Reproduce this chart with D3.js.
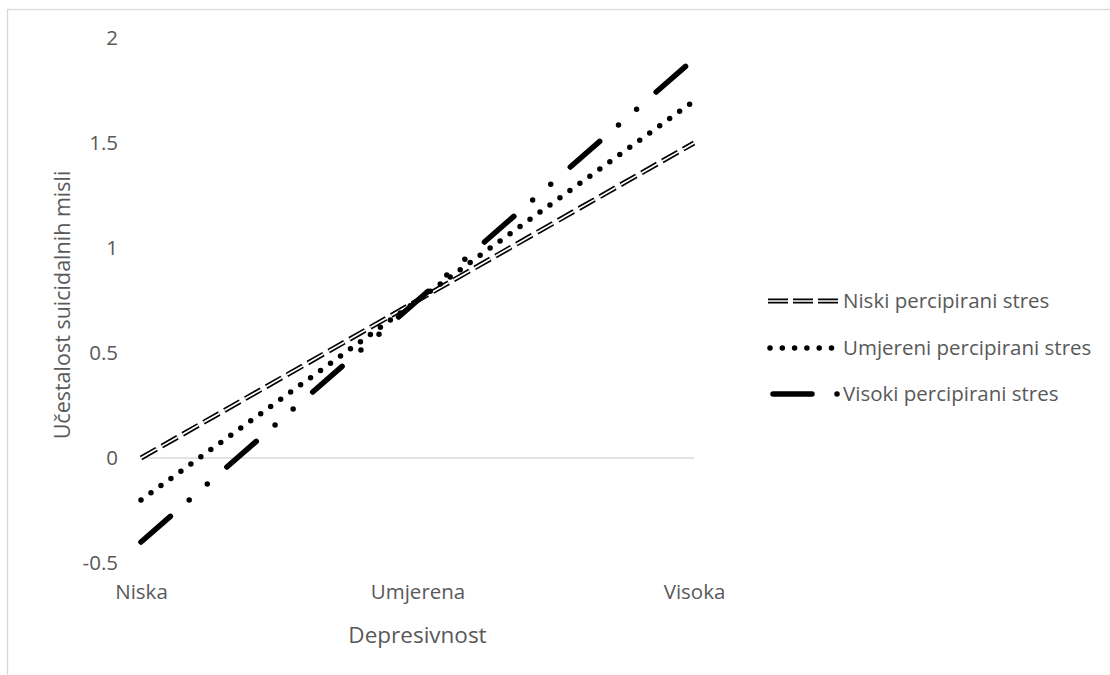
<!DOCTYPE html>
<html>
<head>
<meta charset="utf-8">
<script src="https://cdn.jsdelivr.net/npm/d3@7"></script>
<style>
  body { margin: 0; background: #fff; }
  text { font-family: "Open Sans", sans-serif; fill: #595959; }
</style>
</head>
<body>
<div id="chart"></div>
<script>
// data
const categories = ['Niska', 'Umjerena', 'Visoka'];
const niskiStres = [0, 0.75, 1.5];
const umjereniStres = [-0.2, 0.75, 1.7];
const visokiStres = [-0.4, 0.75, 1.9];
const seriesNames = ['Niski percipirani stres', 'Umjereni percipirani stres', 'Visoki percipirani stres'];
const yTicks = [-0.5, 0, 0.5, 1, 1.5, 2];

const W = 1110, H = 675;

const svg = d3.select('#chart')
    .append('svg')
    .attr('width', W)
    .attr('height', H);

// outer chart frame (cropped on the right and bottom)
svg.append('rect')
    .attr('x', 7.5)
    .attr('y', 9.5)
    .attr('width', W + 20)
    .attr('height', H + 20)
    .attr('fill', 'none')
    .attr('stroke', '#d9d9d9')
    .attr('stroke-width', 1.3);

const xScale = d3.scalePoint()
    .domain(categories)
    .range([141, 694]);

const yScale = d3.scaleLinear()
    .domain([-0.5, 2])
    .range([563, 38]);

// horizontal axis line at zero
svg.append('line')
    .attr('x1', xScale(categories[0]))
    .attr('x2', xScale(categories[categories.length - 1]))
    .attr('y1', yScale(0))
    .attr('y2', yScale(0))
    .attr('stroke', '#d9d9d9')
    .attr('stroke-width', 1.5);

// y axis labels
const yAxis = svg.append('g')
    .attr('transform', `translate(${xScale(categories[0])}, 0)`)
    .call(d3.axisLeft(yScale).tickValues(yTicks).tickSize(0).tickPadding(23).tickFormat(d => String(d)));
yAxis.select('.domain').remove();
yAxis.selectAll('text')
    .style('font-size', '20.5px')
    .style('font-family', '"Open Sans", sans-serif')
    .attr('fill', '#595959');

// x axis labels
const xAxis = svg.append('g')
    .attr('transform', `translate(0, ${yScale(-0.5)})`)
    .call(d3.axisBottom(xScale).tickSize(0).tickPadding(21));
xAxis.select('.domain').remove();
xAxis.selectAll('text')
    .style('font-size', '20.5px')
    .style('font-family', '"Open Sans", sans-serif')
    .attr('fill', '#595959');

// axis titles
svg.append('text')
    .attr('x', (xScale.range()[0] + xScale.range()[1]) / 2)
    .attr('y', 643)
    .attr('text-anchor', 'middle')
    .style('font-size', '22.5px')
    .text('Depresivnost');

svg.append('text')
    .attr('transform', `translate(70, 305) rotate(-90)`)
    .attr('text-anchor', 'middle')
    .style('font-size', '21.5px')
    .text('Učestalost suicidalnih misli');

const line = d3.line()
    .x((d, i) => xScale(categories[i]))
    .y(d => yScale(d));

// line styles: double dashed, round dots, long dash dot dot
const styles = [
    { width: 5, dash: '18 6', cap: 'butt', inner: 1.7 },
    { width: 5.5, dash: '0 12.3', cap: 'round' },
    { width: 5.5, dash: '39 25 0 24 0 26', cap: 'round' }
];

const allSeries = [niskiStres, umjereniStres, visokiStres];

function drawStyled(g, d, s) {
    g.append('path')
        .attr('d', d)
        .attr('fill', 'none')
        .attr('stroke', '#000')
        .attr('stroke-width', s.width)
        .attr('stroke-dasharray', s.dash)
        .attr('stroke-linecap', s.cap);
    if (s.inner) {
        g.append('path')
            .attr('d', d)
            .attr('fill', 'none')
            .attr('stroke', '#fff')
            .attr('stroke-width', s.inner)
            .attr('stroke-dasharray', s.dash)
            .attr('stroke-linecap', s.cap);
    }
}

allSeries.forEach((vals, i) => {
    drawStyled(svg.append('g'), line(vals), styles[i]);
});

// legend
const legendY = [301, 348, 394];
const legend = svg.append('g');
seriesNames.forEach((name, i) => {
    const g = legend.append('g').attr('transform', `translate(0, ${legendY[i]})`);
    const lx = i === 1 ? [770, 832] : (i === 0 ? [768, 838] : [773, 840]);
    drawStyled(g, `M${lx[0]},0L${lx[1]},0`, i === 0 ? Object.assign({}, styles[0], { dash: '20 5' }) : styles[i]);
    g.append('text')
        .attr('x', 843)
        .attr('y', 0)
        .attr('dy', '0.35em')
        .style('font-size', '20.5px')
        .text(name);
});
</script>
</body>
</html>
